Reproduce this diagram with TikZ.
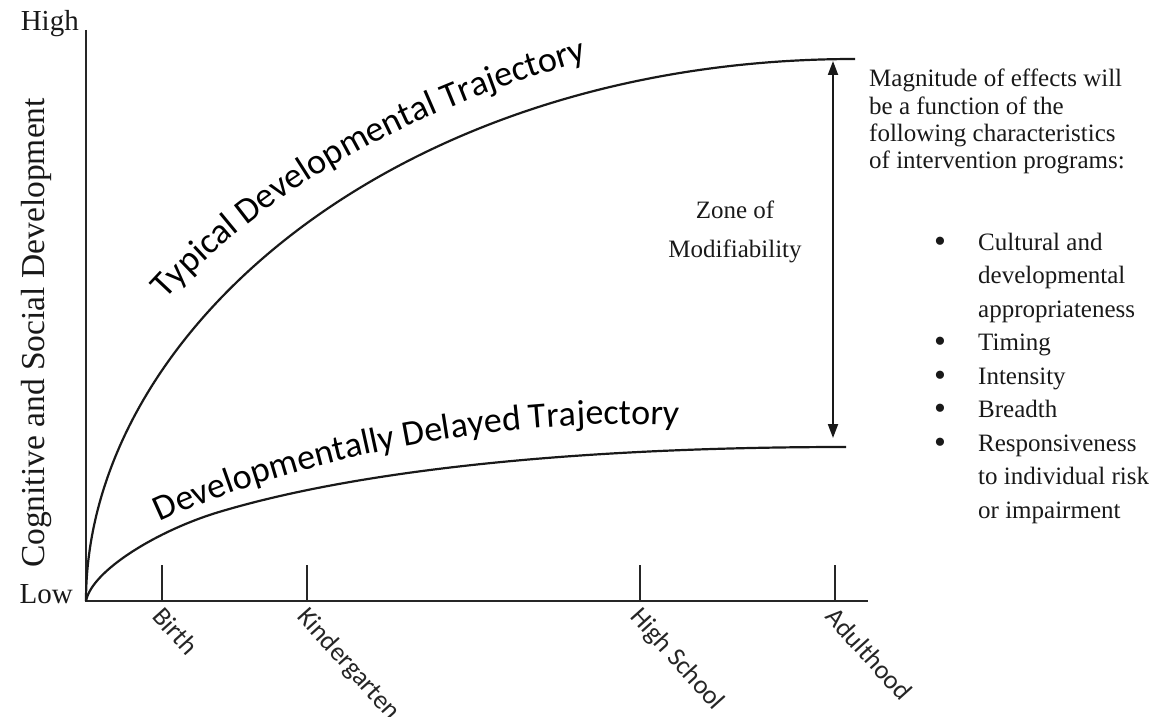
\documentclass[tikz,border=0pt]{standalone}
\usepackage{fontspec}
\setmainfont{Liberation Serif}
\newfontfamily\calib{Carlito}
\usetikzlibrary{arrows.meta,decorations.text}
\begin{document}
\begin{tikzpicture}[x=1pt,y=-1pt,
  axisline/.style={line width=2pt, black!85},
  curveline/.style={line width=2.2pt, black!90},
  tickline/.style={line width=1.8pt, black!85},
  ticklab/.style={font=\calib\fontsize{26.5}{30}\selectfont, rotate=-48, anchor=north west, inner sep=0pt, text=black!85},
  paneltext/.style={font=\fontsize{25}{30}\selectfont, inner sep=0pt, anchor=base west, text=black!90},
  bulletmark/.style={font=\fontsize{34}{36}\selectfont, inner sep=0pt, anchor=base, text=black!90}
]
\useasboundingbox (0,0) rectangle (1165,717);

% axes
\coordinate (ytop) at (86,30);
\coordinate (O) at (86,601);
\coordinate (xend) at (868,601);
\draw[axisline] (ytop) -- (O) -- (xend);

\node[font=\fontsize{29}{32}\selectfont, anchor=base east, inner sep=0pt, text=black!90] (high) at (79,31) {High};
\node[font=\fontsize{29}{32}\selectfont, anchor=base east, inner sep=0pt, text=black!90] (low) at (73,603) {Low};
\node[font=\fontsize{33.5}{36}\selectfont, rotate=90, inner sep=0pt, text=black!90] (ylab) at (36,333) {Cognitive and Social Development};

% ticks
\foreach \n/\x in {birth/162, kinder/307, hs/640, adult/835}{
  \coordinate (\n b) at (\x,601);
  \coordinate (\n t) at (\x,565);
  \draw[tickline] (\n b) -- (\n t);
}
\node[ticklab] (lbirth) at (165,605) {Birth};
\node[ticklab] (lkinder) at (310,605) {Kindergarten};
\node[ticklab] (lhs) at (643,605) {High School};
\node[ticklab] (ladult) at (838,605) {Adulthood};

% curves
\coordinate (tend) at (855,59);
\coordinate (dmid) at (219,512);
\coordinate (dend) at (846,447);
\draw[curveline] (O) .. controls (86,330) and (400,59) .. (tend);
\draw[curveline] (O) .. controls (92,570) and (159,530) .. (dmid)
  .. controls (369,467) and (596,447) .. (dend);

% curve labels
\path[decorate, decoration={text along path, text align={left}, text={|\calib\fontsize{36}{40}\selectfont|Typical Developmental Trajectory}}]
  (166,300) .. controls (285,170) and (440,100) .. (615,52);
\path[decorate, decoration={text along path, text align={left}, text={|\calib\fontsize{36}{40}\selectfont|Developmentally Delayed Trajectory}}]
  (160,522) .. controls (310,452) and (540,411) .. (705,428);

% zone arrow
\coordinate (zt) at (833,61);
\coordinate (zb) at (833,438);
\draw[line width=2pt, black!90, {Triangle[length=14pt,width=10pt]}-{Triangle[length=14pt,width=10pt]}] (zb) -- (zt);
\node[font=\fontsize{25}{39}\selectfont, align=center, inner sep=0pt, text=black!90] (zone) at (735,232) {Zone of\\Modifiability};

% right panel
\node[paneltext] (h1) at (869,87) {Magnitude of effects will};
\node[paneltext] (h2) at (869,114) {be a function of the};
\node[paneltext] (h3) at (869,141) {following characteristics};
\node[paneltext] (h4) at (869,168) {of intervention programs:};

\node[bulletmark] (b1) at (940,252) {\textbullet};
\node[paneltext] (c1) at (978,250) {Cultural and};
\node[paneltext] (c2) at (978,283.5) {developmental};
\node[paneltext] (c3) at (978,317) {appropriateness};
\node[bulletmark] (b2) at (940,352.5) {\textbullet};
\node[paneltext] (t1) at (978,350.5) {Timing};
\node[bulletmark] (b3) at (940,386) {\textbullet};
\node[paneltext] (i1) at (978,384) {Intensity};
\node[bulletmark] (b4) at (940,419.5) {\textbullet};
\node[paneltext] (br1) at (978,417.5) {Breadth};
\node[bulletmark] (b5) at (940,453) {\textbullet};
\node[paneltext] (r1) at (978,451) {Responsiveness};
\node[paneltext] (r2) at (978,484.5) {to individual risk};
\node[paneltext] (r3) at (978,518) {or impairment};
\end{tikzpicture}
\end{document}
